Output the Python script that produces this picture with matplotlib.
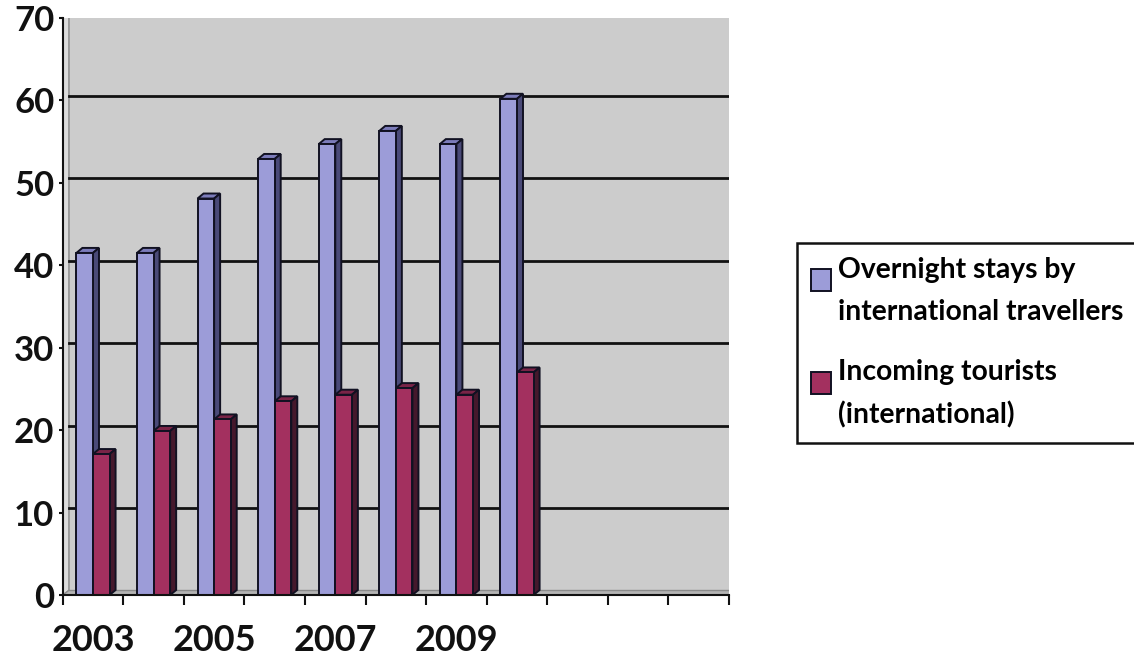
import numpy as np
import matplotlib
matplotlib.use("Agg")
import matplotlib.pyplot as plt
from matplotlib.patches import Polygon, Rectangle
from matplotlib.transforms import ScaledTranslation
from matplotlib.legend_handler import HandlerPatch

# data
years = ["2003", "2004", "2005", "2006", "2007", "2008", "2009", "2010"]
overnight = [41.5, 41.5, 48.1, 52.9, 54.7, 56.3, 54.7, 60.2]
incoming = [17.1, 19.9, 21.3, 23.5, 24.3, 25.1, 24.3, 27.0]
n_slots = 11  # the category axis keeps three empty slots on the right
series_names = ["Overnight stays by\ninternational travellers",
                "Incoming tourists\n(international)"]

front_colors = ["#9c9cd8", "#a3305f"]
top_colors = ["#7c7cba", "#7a2447"]
side_colors = ["#4a4a78", "#45182c"]

plt.rcParams["font.family"] = ["Lato", "DejaVu Sans"]
plt.rcParams["font.weight"] = "bold"

W, H, DPI = 1134, 664, 100
fig = plt.figure(figsize=(W / DPI, H / DPI), dpi=DPI)
ax = fig.add_axes([62.7 / W, 69 / H, 666.3 / W, 577 / H])
ax.set_xlim(-0.5, n_slots - 0.5)
ax.set_ylim(0, 70)
ax.set_facecolor("none")

# depth of the fake 3D view, in pixels
wall_dx, wall_dy = 6, 4.5
bar_dx, bar_dy = 6, 5
wall_off = ScaledTranslation(wall_dx / DPI, wall_dy / DPI, fig.dpi_scale_trans)

# back wall, side wall and floor
wall = Rectangle((0, 0), 1, 1, transform=ax.transAxes + wall_off,
                 facecolor="#cccccc", edgecolor="#9a9a9a", lw=1.2, zorder=0)
ax.add_patch(wall)
ax_w_px = 666.3
ax_h_px = 577
wx = wall_dx / ax_w_px
wy = wall_dy / ax_h_px
side = Polygon([(0, 0), (wx, wy), (wx, 1 + wy), (0, 1)], closed=True,
               transform=ax.transAxes, facecolor="#dcdcdc", edgecolor="#9a9a9a",
               lw=1.0, zorder=0.5)
ax.add_patch(side)
floor = Polygon([(0, 0), (1, 0), (1 + wx, wy), (wx, wy)], closed=True,
                transform=ax.transAxes, facecolor="#b4b4b4", edgecolor="#8a8a8a",
                lw=1.0, zorder=0.5)
ax.add_patch(floor)

for yv in range(10, 70, 10):
    gl = ax.axhline(yv, color="#111111", lw=2.0, zorder=1)
    gl.set_transform(gl.get_transform() + wall_off)

# bars
bar_w = 0.274
dx = bar_dx / ax_w_px * n_slots
dy = bar_dy / ax_h_px * 70
x = np.arange(len(years))
containers = []
z = 3
for i in range(len(years)):
    for k, vals in enumerate([overnight, incoming]):
        x0 = x[i] - bar_w + k * bar_w
        x1 = x0 + bar_w
        h = vals[i]
        b = ax.bar(x0, h, width=bar_w, align="edge", color=front_colors[k],
                   edgecolor="#111122", lw=1.4, zorder=z + 0.2)
        if i == 0:
            containers.append(b)
        top = Polygon([(x0, h), (x1, h), (x1 + dx, h + dy), (x0 + dx, h + dy)],
                      closed=True, facecolor=top_colors[k], edgecolor="#111122",
                      lw=1.4, zorder=z)
        sd = Polygon([(x1, 0), (x1 + dx, dy), (x1 + dx, h + dy), (x1, h)],
                     closed=True, facecolor=side_colors[k], edgecolor="#111122",
                     lw=1.4, zorder=z)
        ax.add_patch(top)
        ax.add_patch(sd)
        z += 1

# axes lines and ticks
for s in ["top", "right"]:
    ax.spines[s].set_visible(False)
for s in ["left", "bottom"]:
    ax.spines[s].set_color("#111111")
    ax.spines[s].set_linewidth(1.5)
    ax.spines[s].set_zorder(50)

ax.set_yticks(range(0, 71, 10))
ax.tick_params(axis="y", direction="out", length=3, width=1.5, pad=3,
               labelsize=25, colors="#111111")

ax.set_xticks(np.arange(-0.5, n_slots, 1))
ax.set_xticklabels([])
ax.tick_params(axis="x", which="major", direction="out", length=7.5, width=1.5,
               colors="#111111")
ax.set_xticks(np.arange(0, len(years), 2), minor=True)
ax.set_xticklabels(years[::2], minor=True)
ax.tick_params(axis="x", which="minor", length=0, pad=21, labelsize=26,
               colors="#111111")


def square_top(legend, orig_handle, xdescent, ydescent, width, height, fontsize):
    sq = width
    return Rectangle((-xdescent, -ydescent + height - sq * 1.2), sq, sq * 1.1)


handles = [c.patches[0] for c in containers]
leg = fig.legend(handles, series_names, loc="upper left",
                 bbox_to_anchor=(796.7 / W, 1 - 242.7 / H),
                 frameon=True, fancybox=False, edgecolor="#111111",
                 framealpha=1.0,
                 fontsize=20.3, handlelength=0.7, handleheight=2.4,
                 handletextpad=0.28, labelspacing=1.2, borderpad=0.5,
                 borderaxespad=0,
                 handler_map={Rectangle: HandlerPatch(patch_func=square_top)})
leg.get_frame().set_linewidth(1.8)
for t in leg.get_texts():
    t.set_linespacing(1.76)

fig.savefig("out.png", dpi=DPI)
